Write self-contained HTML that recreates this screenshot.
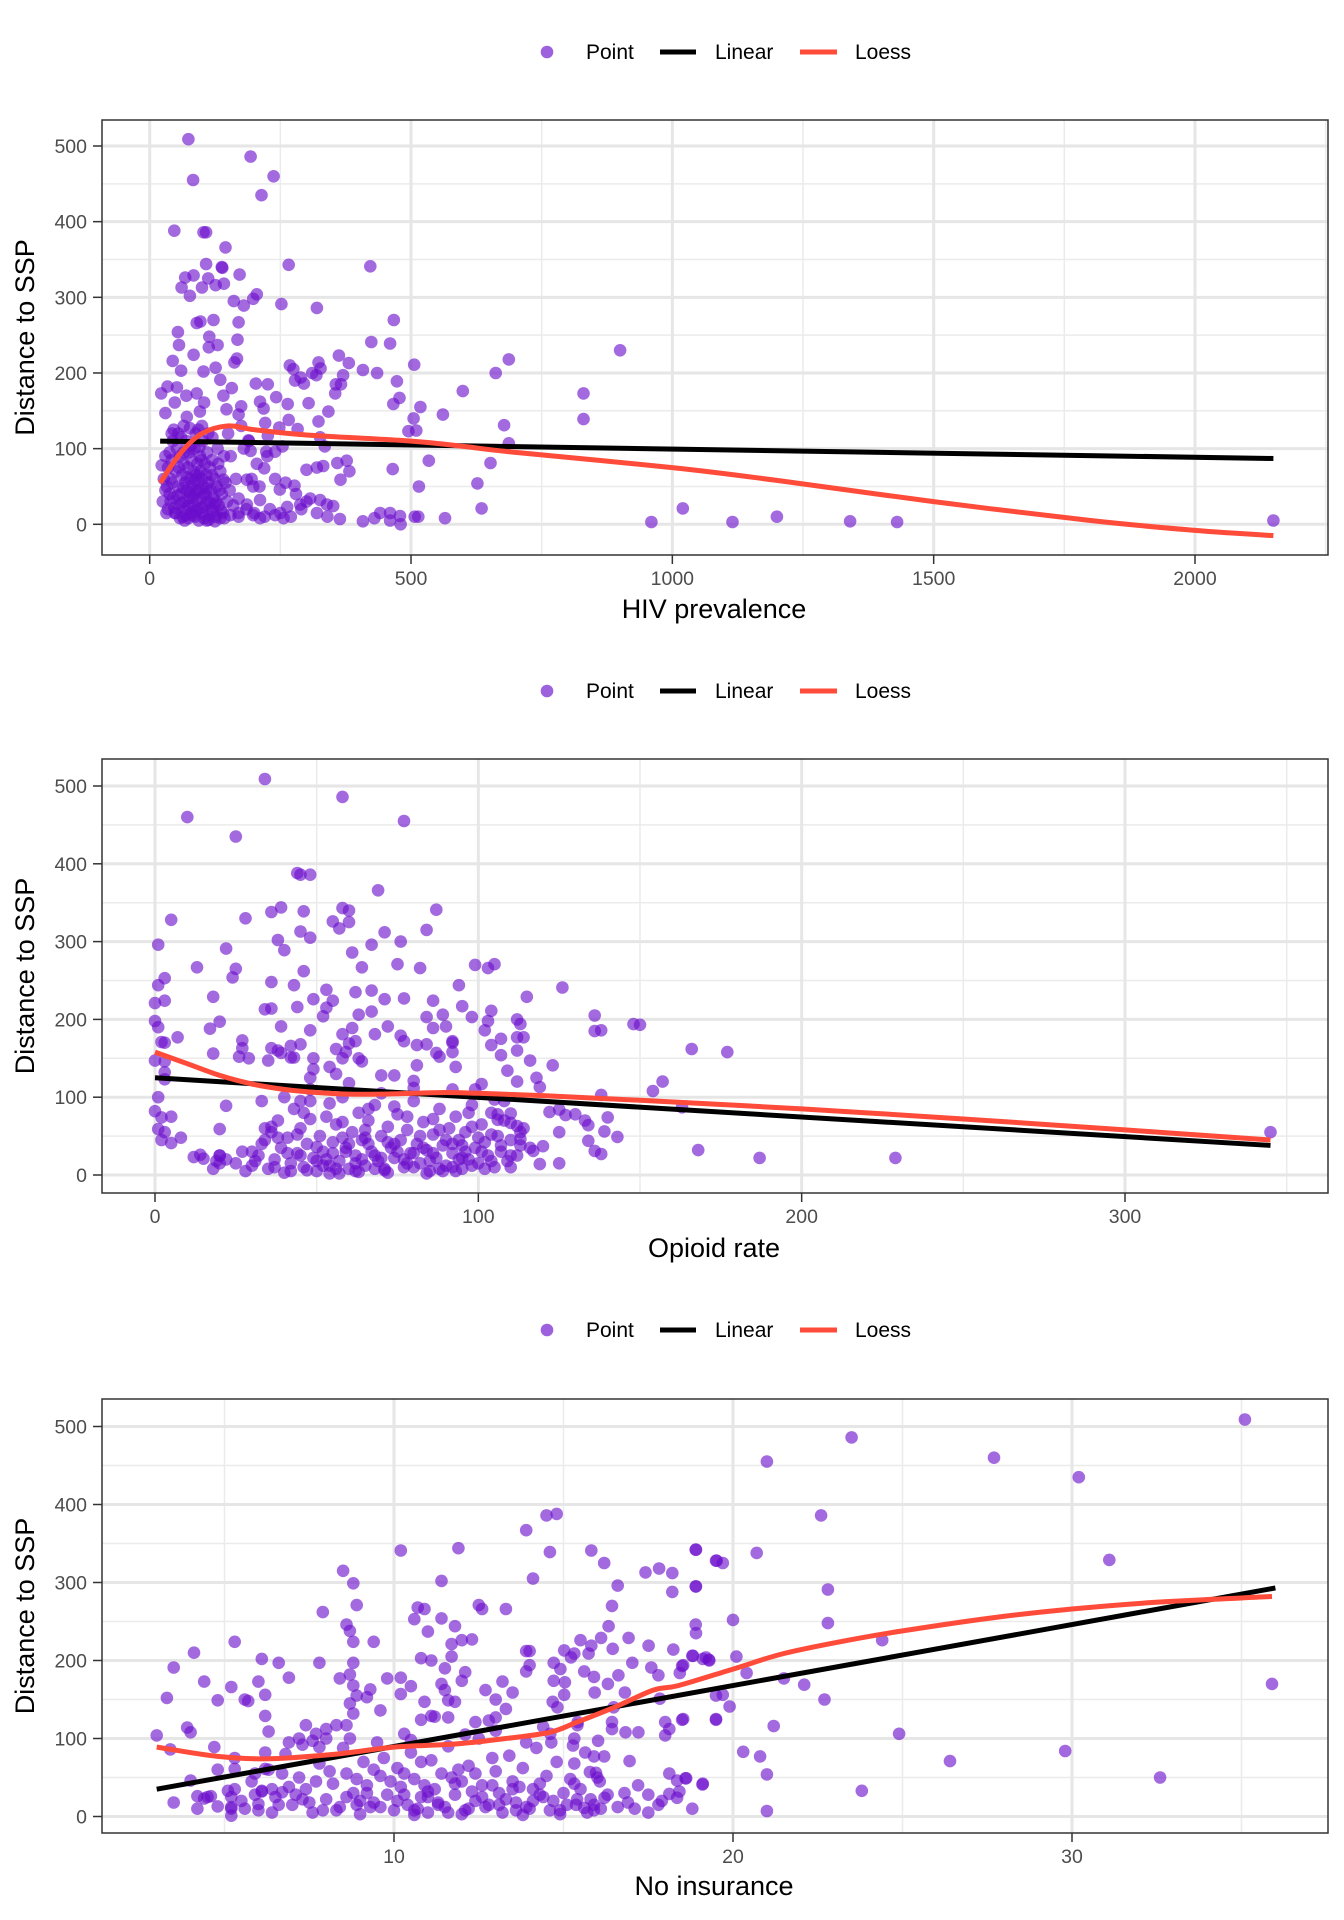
<!DOCTYPE html>
<html><head><meta charset="utf-8">
<style>
html,body{margin:0;padding:0;background:#fff;}
svg{display:block;font-family:"Liberation Sans",Arial,sans-serif;}
</style></head>
<body>
<svg id="chart" width="1344" height="1920" viewBox="0 0 1344 1920" xmlns="http://www.w3.org/2000/svg"></svg>
<script>
// ---------- Panel 1: HIV prevalence ----------
const hivX = [74,193,83,237,214,47,103,108,145,266,422,108,138,139,68,84,112,100,61,77,126,142,172,161,180,198,205,252,320,467,90,97,122,170,54,56,114,113,130,168,44,84,60,424,460,506,687,662,599,561,678,518,505,495,510,627,635,652,687,534,515,
362,381,408,435,473,478,466,356,366,355,370,323,327,311,319,268,275,289,278,295,203,226,211,218,242,264,304,323,342,266,221,248,283,162,167,126,135,103,141,157,175,147,170,
189,193,223,240,226,254,335,326,359,377,382,365,300,320,332,219,277,249,307,326,339,351,364,408,430,441,460,479,480,460,507,514,565,465,288,263,256,240,211,198,211,186,170,154,135,125,141,170,186,198,
25,30,35,40,42,45,48,50,52,55,57,58,60,62,63,65,66,68,70,70,72,73,75,76,78,79,80,81,82,84,85,86,87,88,90,91,92,93,95,96,97,98,100,101,102,103,105,106,107,108,110,111,112,114,115,117,118,120,122,124,126,128,130,132,135,138,140,142,145,148,150,30,35,38,44,46,40,55,60,65,88,93,100,112,120,58,67,74,83,94,104,113,125,136,27,33,50,77,89,99,109,119,131,143,153,160,165,170,155,180,175,185,200,210,220,230,250,270,290,300,320,340,280,260,240,225,205,190,195,
22,34,52,30,48,70,90,104,96,71,77,42,23,960,1020,1115,1200,1340,1430,2150,830,830,900];
const hivY = [509,486,455,460,435,388,386,386,366,343,341,344,340,339,326,329,325,313,313,302,316,318,330,295,289,298,304,291,286,270,266,268,270,267,254,237,248,234,237,244,216,224,203,241,239,211,218,200,176,145,131,155,140,123,124,54,21,81,107,84,50,
223,213,204,200,189,167,159,185,185,173,197,214,206,200,197,210,205,194,190,186,186,185,162,153,168,159,160,136,149,138,134,128,126,214,219,207,191,202,170,180,156,152,145,
111,97,96,96,117,103,103,115,81,84,70,59,72,75,77,74,51,46,34,32,26,24,7,4,8,15,15,11,0,5,10,10,8,73,26,23,8,12,8,12,32,26,15,12,8,27,59,34,59,50,
30,45,20,60,85,35,15,70,100,50,25,90,40,65,10,80,30,55,110,20,45,75,95,35,60,15,85,50,25,70,40,100,10,65,30,80,55,20,45,90,70,35,60,15,110,50,25,80,40,65,95,30,55,12,75,45,20,85,35,60,10,50,100,25,70,40,15,90,55,30,120,90,75,95,110,125,30,120,115,130,120,125,130,120,115,8,5,8,12,5,8,6,4,18,60,50,15,100,45,85,5,65,80,8,45,25,60,10,90,100,130,20,15,50,10,20,15,10,20,30,15,10,40,55,60,90,80,110,60,
173,182,181,147,161,170,173,161,149,142,127,120,78,3,21,3,10,4,3,5,173,139,230];
const hivX2 = [32,38,43,47,53,56,61,64,69,71,74,77,83,86,89,94,99,104,109,116,121,127,133,65,80,95];
const hivY2 = [15,40,55,22,38,75,28,48,12,62,25,42,35,58,18,65,22,40,48,28,18,30,45,95,105,102];
const hivLinX = [20,2150];
const hivLinY = [110,87];
const hivLoessX = [20,60,100,150,200,300,500,600,700,1000,1200,1500,1800,2000,2150];
const hivLoessY = [55,95,120,130,125,118,110,103,95,75,58,30,5,-8,-15];
const hivXTicks = [0,500,1000,1500,2000];
const hivXTickLabels = ["0","500","1000","1500","2000"];

// ---------- Panel 2: Opioid rate ----------
const opX = [148,157,163,166,177,168,187,229,345,34,58,10,77,25,44,45,48,69,5,28,36,39,46,58,60,55,57,60,87,45,48,38,40,84,71,76,61,67,1,22,13,25,24,46,43,36,64,75,82,99,103,105,94,115,126,1,3,0,3,53,49,53,52,55,62,67,71,77,86,18,20,17,18,34,36,44,39,48,58,61,68,72,63,67,84,89,95,98,104,103,86,90,92,102,112,113,112,114,136,136,138,150,123,116,112,118,119,112,109,107,104,107,138,154,
0,1,7,3,2,0,3,3,3,1,0,2,5,1,3,2,5,8,12,14,15,19,20,20,22,20,27,27,26,29,36,35,38,39,42,43,45,42,49,49,48,54,56,56,59,60,62,63,64,58,70,74,80,81,76,77,81,84,87,88,92,92,93,101,99,105,106,110,110,112,113,113,113,117,120,122,125,127,130,133,134,140,139,143,134,136,138,119,125,125,
28,30,32,33,35,36,37,38,39,40,41,42,43,44,45,46,47,48,49,50,51,52,53,54,55,56,57,58,59,60,61,62,63,64,65,66,67,68,69,70,71,72,73,74,75,76,77,78,79,80,81,82,83,84,85,86,87,88,89,90,91,92,93,94,95,96,97,98,99,100,101,102,103,104,105,106,107,108,109,110,112,114,116,30,34,38,42,46,50,54,58,62,66,70,74,78,82,86,90,94,98,102,106,110,45,55,65,75,85,95,52,60,68,80,92,100,57,64,72,88,96,104,25,27,22,20,18,33,40,48,60,70,80,92,108];
const opY = [194,120,87,162,158,32,22,22,55,509,486,460,455,435,388,386,386,366,328,330,338,344,339,343,340,326,317,325,341,313,305,302,289,315,312,300,286,296,296,291,267,265,254,262,244,248,267,271,266,270,266,271,244,229,241,244,253,221,224,238,226,215,204,224,235,237,226,227,224,229,197,188,156,213,214,216,191,186,181,189,181,191,206,210,203,206,217,203,211,198,189,191,172,186,200,194,177,177,205,185,186,193,141,147,160,125,113,120,134,154,167,175,103,108,
198,190,177,170,171,147,146,132,123,100,82,74,75,59,55,45,41,48,23,26,21,18,25,15,89,59,173,163,152,150,163,147,160,157,151,151,168,166,150,136,125,139,130,162,158,169,172,150,146,150,128,128,121,141,179,172,167,168,157,152,158,170,139,117,110,97,71,79,67,63,55,46,38,31,37,81,84,77,78,70,64,74,56,49,44,31,27,14,15,55,
5,12,25,40,8,55,20,70,35,3,48,15,85,28,60,10,40,95,22,5,50,30,75,12,42,65,18,100,35,8,55,25,80,45,12,70,30,90,18,50,8,62,35,22,78,45,10,58,28,95,40,15,68,32,5,52,22,85,38,12,60,28,75,45,8,55,20,90,35,15,65,42,25,80,10,50,30,70,18,45,25,60,35,30,60,48,5,80,18,92,48,5,40,22,88,15,50,72,45,20,62,8,78,25,25,28,58,30,18,38,12,40,8,28,10,48,2,20,42,8,30,52,15,30,20,25,8,95,100,110,118,105,112,110,95];
const opX2 = [31,34,37,41,44,47,50,53,56,59,62,65,68,71,74,77,80,83,86,89,92,95,98,101,104,107,110,36,48,58,66,78,88,97,54,63,72,84,93,45];
const opY2 = [18,45,10,28,52,6,36,20,8,30,15,48,25,6,40,20,10,35,28,5,40,22,12,30,18,38,10,62,72,68,85,75,58,80,2,4,3,2,5,95];
const opLinX = [0,345];
const opLinY = [125,38];
const opLoessX = [0,10,20,30,40,50,60,70,80,90,100,120,150,200,250,300,345];
const opLoessY = [158,143,128,117,110,106,104,104,105,106,105,102,96,85,72,58,45];
const opXTicks = [0,100,200,300];
const opXTickLabels = ["0","100","200","300"];

// ---------- Panel 3: No insurance ----------
const niX = [35.1,23.5,27.7,21.0,30.2,22.6,18.9,19.5,19.7,20.7,31.1,18.9,22.8,18.9,20,22.8,24.4,18.8,19.2,19.3,18.5,20.1,20.4,21.5,22.1,22.7,35.9,19.5,19.7,19.9,19.5,18.5,21.2,24.9,20.3,20.8,21,26.4,29.8,32.6,23.8,21,18.6,19.1,
3.0,3.3,3.5,3.4,3.5,4.1,4.4,3.9,4.0,4.0,4.7,4.8,4.2,4.4,4.6,4.8,5.2,5.3,5.6,5.7,5.3,5.3,5.1,5.2,5.2,5.2,5.6,6.0,6.1,6.2,6.2,6.3,6.6,6.9,6.2,6.2,5.9,6.0,6.1,6.4,6.7,6.9,7.2,7.4,7.6,7.7,7.8,8.0,8.0,8.3,8.6,7.8,7.9,8.5,8.8,8.9,8.6,8.7,8.8,8.8,8.7,8.4,8.8,8.9,8.7,8.8,9.2,9.3,9.4,9.6,9.8,10.2,10.2,10.2,10.5,10.3,10.6,10.7,10.9,10.8,11.1,11.0,11.4,11.4,11.9,11.5,11.7,11.7,11.8,12.0,12.3,12.1,12.0,11.4,11.5,11.6,11.8,10.9,11.1,10.8,11.2,11.6,12.5,12.6,13.3,12.7,13.0,13.0,13.3,13.2,13.5,12.4,12.8,13.9,14.0,14.0,13.9,13.9,14.1,14.5,14.8,14.6,
14.71,14.71,14.91,15.04,15.02,14.68,14.82,14.61,14.64,15.02,15.22,15.32,15.5,15.74,15.82,15.82,16.2,16.6,16.43,16.33,16.11,16.45,16.92,17.03,17.51,17.42,17.82,18.21,18.21,18.91,18.91,18.91,18.24,18.82,19.11,19.29,19.52,
15.61,15.9,15.92,16.31,16.62,16.81,17.59,17.8,18.43,18.53,16.48,16.43,16.43,16.83,17.21,16.95,17.84,18.0,18.12,18.0,18.53,19.5,15.42,15.41,15.32,15.28,15.32,16.02,15.64,15.9,16.2,15.78,15.96,16.07,15.32,16.21,15.37,15.61,15.9,17.1,18.12,18.35,18.62,19.11,18.12,18.35,18.42,
5.5,5.8,6.0,6.3,6.5,6.8,7.0,7.2,7.4,7.6,7.8,8.0,8.2,8.4,8.5,8.6,8.8,9.0,9.1,9.2,9.4,9.5,9.6,9.8,10.0,10.1,10.2,10.4,10.5,10.6,10.8,11.0,11.1,11.2,11.4,11.5,11.6,11.8,12.0,12.1,12.2,12.4,12.5,12.6,12.8,13.0,13.1,13.2,13.4,13.5,13.6,13.8,14.0,14.1,14.2,14.4,14.5,14.6,14.8,15.0,15.1,15.2,6.1,7.1,8.1,9.3,10.3,11.3,12.3,13.3,14.3,7.9,9.9,10.9,11.9,12.9,13.9,8.9,10.7,12.7,14.7,9.7,11.7,13.7,7.3,8.7,10.5,12.1,13.0,14.4,6.7,5.3,4.8,4.5,4.2,15.5,15.8,16.0,16.3,16.6,16.9,17.2,17.5,17.8,15.7,14.9,13.8,12.0,10.6,9.0,11.0];
const niY = [509,486,460,455,435,386,342,328,325,338,329,295,291,246,252,248,226,206,204,200,193,205,184,177,169,150,170,155,156,141,124,124,116,106,83,77,54,71,84,50,33,7,49,41,
104,152,191,86,18,210,173,114,108,46,89,149,26,23,26,13,166,224,150,148,75,61,33,25,10,1,10,173,202,156,129,109,197,178,82,61,55,16,33,35,31,95,100,117,97,106,89,112,100,117,117,197,262,315,299,271,246,238,224,197,182,177,168,155,145,132,153,163,224,136,177,341,178,157,167,106,253,268,266,203,200,237,302,254,344,190,221,205,244,226,227,185,174,170,162,149,147,147,129,124,128,127,271,266,266,162,150,127,138,173,159,121,123,212,212,194,186,367,305,386,388,339,
197,174,189,172,156,147,140,106,95,213,204,209,226,209,219,341,325,296,270,244,229,215,229,197,219,313,318,312,288,342,295,235,214,206,202,201,328,
186,179,159,170,181,159,191,181,184,194,140,121,112,108,108,71,151,121,112,104,125,125,121,117,100,91,68,97,82,77,77,57,56,45,42,24,15,11,8,10,55,46,49,42,29,24,32,
20,45,8,60,25,80,15,50,35,5,68,22,42,12,88,55,30,3,70,40,18,95,52,28,8,62,38,15,82,48,25,5,72,35,55,12,90,28,45,8,65,20,100,40,15,58,30,5,78,45,18,62,10,35,88,25,52,8,70,30,15,48,32,28,58,12,28,18,32,22,42,8,45,40,60,75,95,48,10,12,20,75,50,38,92,100,98,105,110,115,55,35,60,25,10,35,22,50,28,12,18,40,28,15,5,3,2,3,2,20,25];
const niX2 = [5.2,5.9,6.4,6.9,7.5,8.3,8.6,9.2,9.6,10.1,10.6,11.0,11.3,11.8,12.2,12.6,13.1,13.5,13.9,14.3,14.9,15.4,16.1,16.8,17.5,7.7,8.9,10.3,11.6,12.9,14.1,9.4,10.8,12.4,13.6,6.6,7.3,15.9,17.9,18.8];
const niY2 = [12,28,5,38,18,8,25,30,12,20,8,32,15,42,10,25,15,35,12,28,8,22,10,30,5,45,15,55,5,40,20,60,70,55,8,15,22,15,20,10];
const niLinX = [3,36];
const niLinY = [35,293];
const niLoessX = [3.0,4.8,6.3,8.3,10,11.8,13.3,14.6,15.4,16.5,17.65,18.4,20,21.5,23.4,25,27.7,30,32.6,35.9];
const niLoessY = [89,77,74,80,89,93,100,108,121,140,162,168,189,209,226,238,255,266,275,282];
const niXTicks = [10,20,30];
const niXTickLabels = ["10","20","30"];

const yTicks = [0,100,200,300,400,500];
const yTickLabels = ["0","100","200","300","400","500"];
const legendLabels = ["Point","Linear","Loess"];

const NS = "http://www.w3.org/2000/svg";
const svg = document.getElementById('chart');
function mk(tag, attrs, parent){
  const e = document.createElementNS(NS, tag);
  for (const k in attrs) e.setAttribute(k, attrs[k]);
  (parent||svg).appendChild(e);
  return e;
}
function smoothPath(P){
  let d = 'M' + P[0][0].toFixed(1) + ',' + P[0][1].toFixed(1);
  for (let i=0;i<P.length-1;i++){
    const p0=P[Math.max(0,i-1)], p1=P[i], p2=P[i+1], p3=P[Math.min(P.length-1,i+2)];
    const c1x=p1[0]+(p2[0]-p0[0])/6, c1y=p1[1]+(p2[1]-p0[1])/6;
    const c2x=p2[0]-(p3[0]-p1[0])/6, c2y=p2[1]-(p3[1]-p1[1])/6;
    d += ' C'+c1x.toFixed(1)+','+c1y.toFixed(1)+' '+c2x.toFixed(1)+','+c2y.toFixed(1)+' '+p2[0].toFixed(1)+','+p2[1].toFixed(1);
  }
  return d;
}

function drawPanel(p){
  const g = mk('g', {});
  
  
  const L=102, R=1328, T=p.top, B=p.bottom;
  const sx = v => p.x0px + (v - p.x0v) * (p.x1px - p.x0px) / (p.x1v - p.x0v);
  const sy = v => p.y0px + v * (p.y500px - p.y0px) / 500;
  const lg = mk('g', {}, g);
  
  
  const ly = p.legendY;
  const c = mk('circle', {cx:547, cy:ly, r:6.3, fill:'#6a0dcc', 'fill-opacity':0.65}, lg);
  
  
  const t1 = mk('text', {x:586, y:ly+7, 'font-size':21, fill:'#000'}, lg); t1.textContent = legendLabels[0];
  
  
  const l1 = mk('line', {x1:660, x2:696, y1:ly, y2:ly, stroke:'#000', 'stroke-width':5}, lg);
  
  
  const t2 = mk('text', {x:715, y:ly+7, 'font-size':21, fill:'#000'}, lg); t2.textContent = legendLabels[1];
  
  
  const l2 = mk('line', {x1:800, x2:837, y1:ly, y2:ly, stroke:'#ff4b3a', 'stroke-width':5}, lg);
  
  
  const t3 = mk('text', {x:855, y:ly+7, 'font-size':21, fill:'#000'}, lg); t3.textContent = legendLabels[2];
  
  

  const cid = 'clip-' + p.name;
  const cp = mk('clipPath', {id:cid}, g);
  mk('rect', {x:L, y:T, width:R-L, height:B-T}, cp);
  const grid = mk('g', {'clip-path':'url(#'+cid+')'}, g);
  
  
  for (let v=50; v<=550; v+=100){
    const y=sy(v); if(y<T||y>B) continue;
    mk('line', {x1:L,x2:R,y1:y,y2:y,stroke:'#ebebeb','stroke-width':1.5}, grid);
  }
  for (let i=0;i<p.minorX.length;i++){
    const x=sx(p.minorX[i]);
    mk('line', {x1:x,x2:x,y1:T,y2:B,stroke:'#ebebeb','stroke-width':1.5}, grid);
  }
  for (let i=0;i<yTicks.length;i++){
    const y=sy(yTicks[i]);
    mk('line', {x1:L,x2:R,y1:y,y2:y,stroke:'#e6e6e6','stroke-width':3}, grid);
  }
  for (let i=0;i<p.xTicks.length;i++){
    const x=sx(p.xTicks[i]);
    mk('line', {x1:x,x2:x,y1:T,y2:B,stroke:'#e6e6e6','stroke-width':3}, grid);
  }
  const pts = mk('g', {'clip-path':'url(#'+cid+')'}, g);
  
  
  for (let i=0;i<p.xs.length;i++){
    const pt = mk('circle', {cx:sx(p.xs[i]).toFixed(1), cy:sy(p.ys[i]).toFixed(1), r:6.3, fill:'#6a0dcc', 'fill-opacity':0.62}, pts);
    
    
  }
  const lin = mk('polyline', {points: p.linX.map((v,i)=>sx(v)+','+sy(p.linY[i])).join(' '), fill:'none', stroke:'#000', 'stroke-width':5}, g);
  
  
  const loPts = p.loX.map((v,i)=>[sx(v), sy(p.loY[i])]);
  const lo = mk('path', {d: smoothPath(loPts), fill:'none', stroke:'#ff4b3a', 'stroke-width':5, 'stroke-linejoin':'round'}, g);
  
  
  const fr = mk('rect', {x:L, y:T, width:R-L, height:B-T, fill:'none', stroke:'#333', 'stroke-width':1.5}, g);
  
  
  const ya = mk('g', {}, g);
  
  
  for (let i=0;i<yTicks.length;i++){
    const y=sy(yTicks[i]);
    mk('line', {x1:93,x2:L,y1:y,y2:y,stroke:'#333','stroke-width':1.5}, ya);
    const t = mk('text', {x:87, y:y+7, 'text-anchor':'end', 'font-size':19.5, fill:'#4d4d4d'}, ya);
    t.textContent = yTickLabels[i];
    
    
  }
  const yt = mk('text', {x:0, y:0, 'text-anchor':'middle', 'font-size':27, fill:'#000', transform:'translate(34,'+((T+B)/2)+') rotate(-90)'}, g);
  yt.textContent = 'Distance to SSP';
  
  
  const xa = mk('g', {}, g);
  
  
  for (let i=0;i<p.xTicks.length;i++){
    const x=sx(p.xTicks[i]);
    mk('line', {x1:x,x2:x,y1:B,y2:B+9,stroke:'#333','stroke-width':1.5}, xa);
    const t = mk('text', {x:x, y:B+30, 'text-anchor':'middle', 'font-size':19.5, fill:'#4d4d4d'}, xa);
    t.textContent = p.xTickLabels[i];
    
    
  }
  const xt = mk('text', {x:714, y:p.xTitleY, 'text-anchor':'middle', 'font-size':27, fill:'#000'}, g);
  xt.textContent = p.xTitle;
  
  
}

drawPanel({name:'hiv', top:120, bottom:555, x0v:0, x1v:2000, x0px:149.7, x1px:1195, y0px:524.3, y500px:146,
  xs:hivX.concat(hivX2), ys:hivY.concat(hivY2), linX:hivLinX, linY:hivLinY, loX:hivLoessX, loY:hivLoessY,
  xTicks:hivXTicks, xTickLabels:hivXTickLabels, minorX:[250,750,1250,1750,2250], legendY:52, xTitleY:618, xTitle:'HIV prevalence'});
drawPanel({name:'opioid', top:759, bottom:1193, x0v:0, x1v:300, x0px:155, x1px:1125, y0px:1175, y500px:786,
  xs:opX.concat(opX2), ys:opY.concat(opY2), linX:opLinX, linY:opLinY, loX:opLoessX, loY:opLoessY,
  xTicks:opXTicks, xTickLabels:opXTickLabels, minorX:[50,150,250,350], legendY:691, xTitleY:1257, xTitle:'Opioid rate'});
drawPanel({name:'insurance', top:1399, bottom:1833, x0v:10, x1v:30, x0px:394, x1px:1072, y0px:1816.5, y500px:1426.5,
  xs:niX.concat(niX2), ys:niY.concat(niY2), linX:niLinX, linY:niLinY, loX:niLoessX, loY:niLoessY,
  xTicks:niXTicks, xTickLabels:niXTickLabels, minorX:[5,15,25,35], legendY:1330, xTitleY:1895, xTitle:'No insurance'});
</script>
</body></html>
